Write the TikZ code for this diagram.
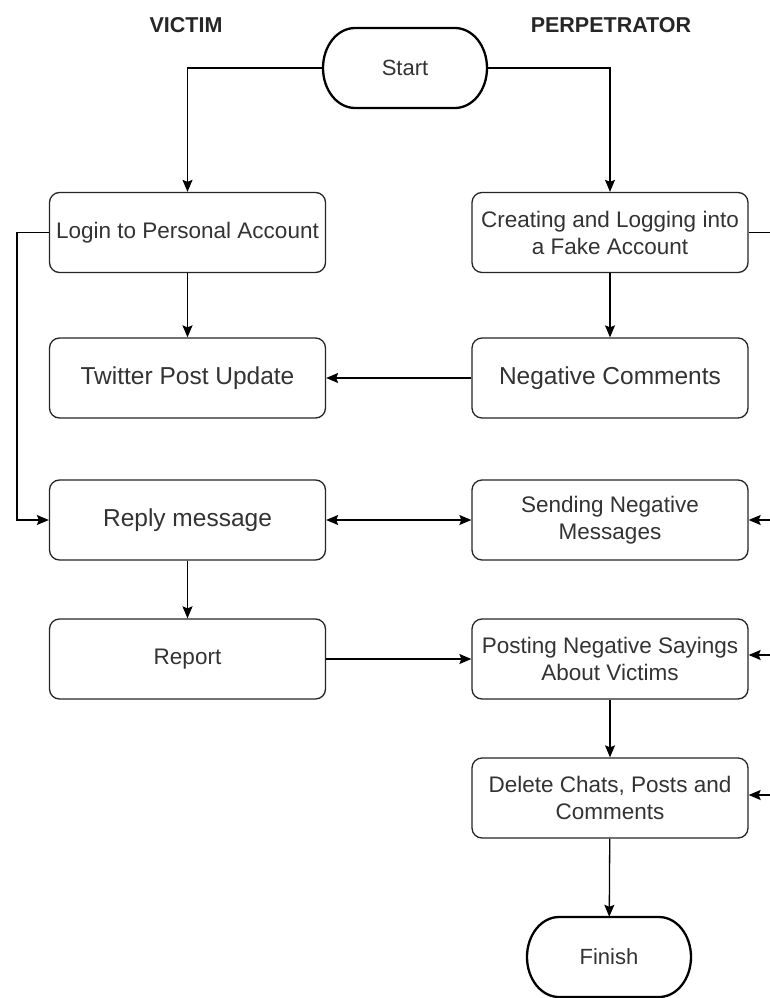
\documentclass[tikz,border=0pt]{standalone}
\usepackage{fontspec}
\setmainfont{Liberation Sans}
\usetikzlibrary{arrows.meta,calc}
\definecolor{txt}{HTML}{333333}
\tikzset{
  box/.style={draw=black!85, line width=1.3pt, rounded corners=10pt, minimum width=276pt, minimum height=80pt, align=center, text=txt, inner sep=2pt},
  small/.style={font=\fontsize{22.5}{27}\selectfont},
  big/.style={font=\fontsize{24.5}{29}\selectfont},
  term/.style={minimum width=164pt, minimum height=80pt, text=txt, font=\fontsize{22}{26}\selectfont},
  termline/.style={draw=black, line width=2.3pt},
  head/.style={font=\bfseries\fontsize{21.5}{26}\selectfont, text=black!85},
  conn/.style={draw=black, line width=1.3pt, -{Stealth[length=12pt,width=10pt,inset=2pt]}},
  conn2/.style={draw=black, line width=1.3pt, {Stealth[length=12pt,width=10pt,inset=2pt]}-{Stealth[length=12pt,width=10pt,inset=2pt]}},
  plain/.style={draw=black, line width=1.3pt}
}
\begin{document}
\begin{tikzpicture}[x=1pt,y=-1pt]
\useasboundingbox (0,0) rectangle (770,998);
\clip (0,0) rectangle (770,998);
\fill[white] (0,0) rectangle (770,998);

\node[head] (hv) at (186,25) {VICTIM};
\node[head] (hp) at (611,25) {PERPETRATOR};

\node[term] (start) at (405,68) {Start};
\node[term] (finish) at (609,957) {Finish};
\foreach \t in {start,finish}{
  \draw[termline] ($(\t)+(-50,-40)$) -- ($(\t)+(50,-40)$)
    arc[start angle=90,end angle=-90,x radius=32pt,y radius=40pt]
    -- ($(\t)+(-50,40)$)
    arc[start angle=270,end angle=90,x radius=32pt,y radius=40pt] -- cycle;
}

\node[box,small] (login) at (187.5,232.5) {Login to Personal Account};
\node[box,small] (create) at (610,232.5) {Creating and Logging into\\a Fake Account};
\node[box,big] (twitter) at (187.5,378) {Twitter Post Update};
\node[box,big] (negc) at (610,378) {Negative Comments};
\node[box,big] (reply) at (187.5,520) {Reply message};
\node[box,small] (send) at (610,520) {Sending Negative\\Messages};
\node[box,small] (report) at (187.5,659) {Report};
\node[box,small] (post) at (610,659) {Posting Negative Sayings\\About Victims};
\node[box,small] (del) at (610,798) {Delete Chats, Posts and\\Comments};

\coordinate (lft) at (17,232.5);
\coordinate (rgt) at (785,232.5);

\draw[conn] (start.west) -| (login.north);
\draw[conn] (start.east) -| (create.north);
\draw[conn] (login) -- (twitter);
\draw[conn] (create) -- (negc);
\draw[conn] (negc) -- (twitter);
\draw[conn] (login.west) -- (lft) |- (reply.west);
\draw[conn2] (reply) -- (send);
\draw[conn] (reply) -- (report);
\draw[conn] (report.east) -- (post.west |- report.east);
\draw[conn] (post) -- (del);
\draw[conn] (del) -- (finish);

\draw[plain] (create.east) -- (rgt) -- (rgt |- del.east);
\draw[conn] (rgt |- send.east) -- (send.east);
\draw[conn] (rgt |- 0,655) -- (post.east |- 0,655);
\draw[conn] (rgt |- 0,795) -- (del.east |- 0,795);
\end{tikzpicture}
\end{document}
